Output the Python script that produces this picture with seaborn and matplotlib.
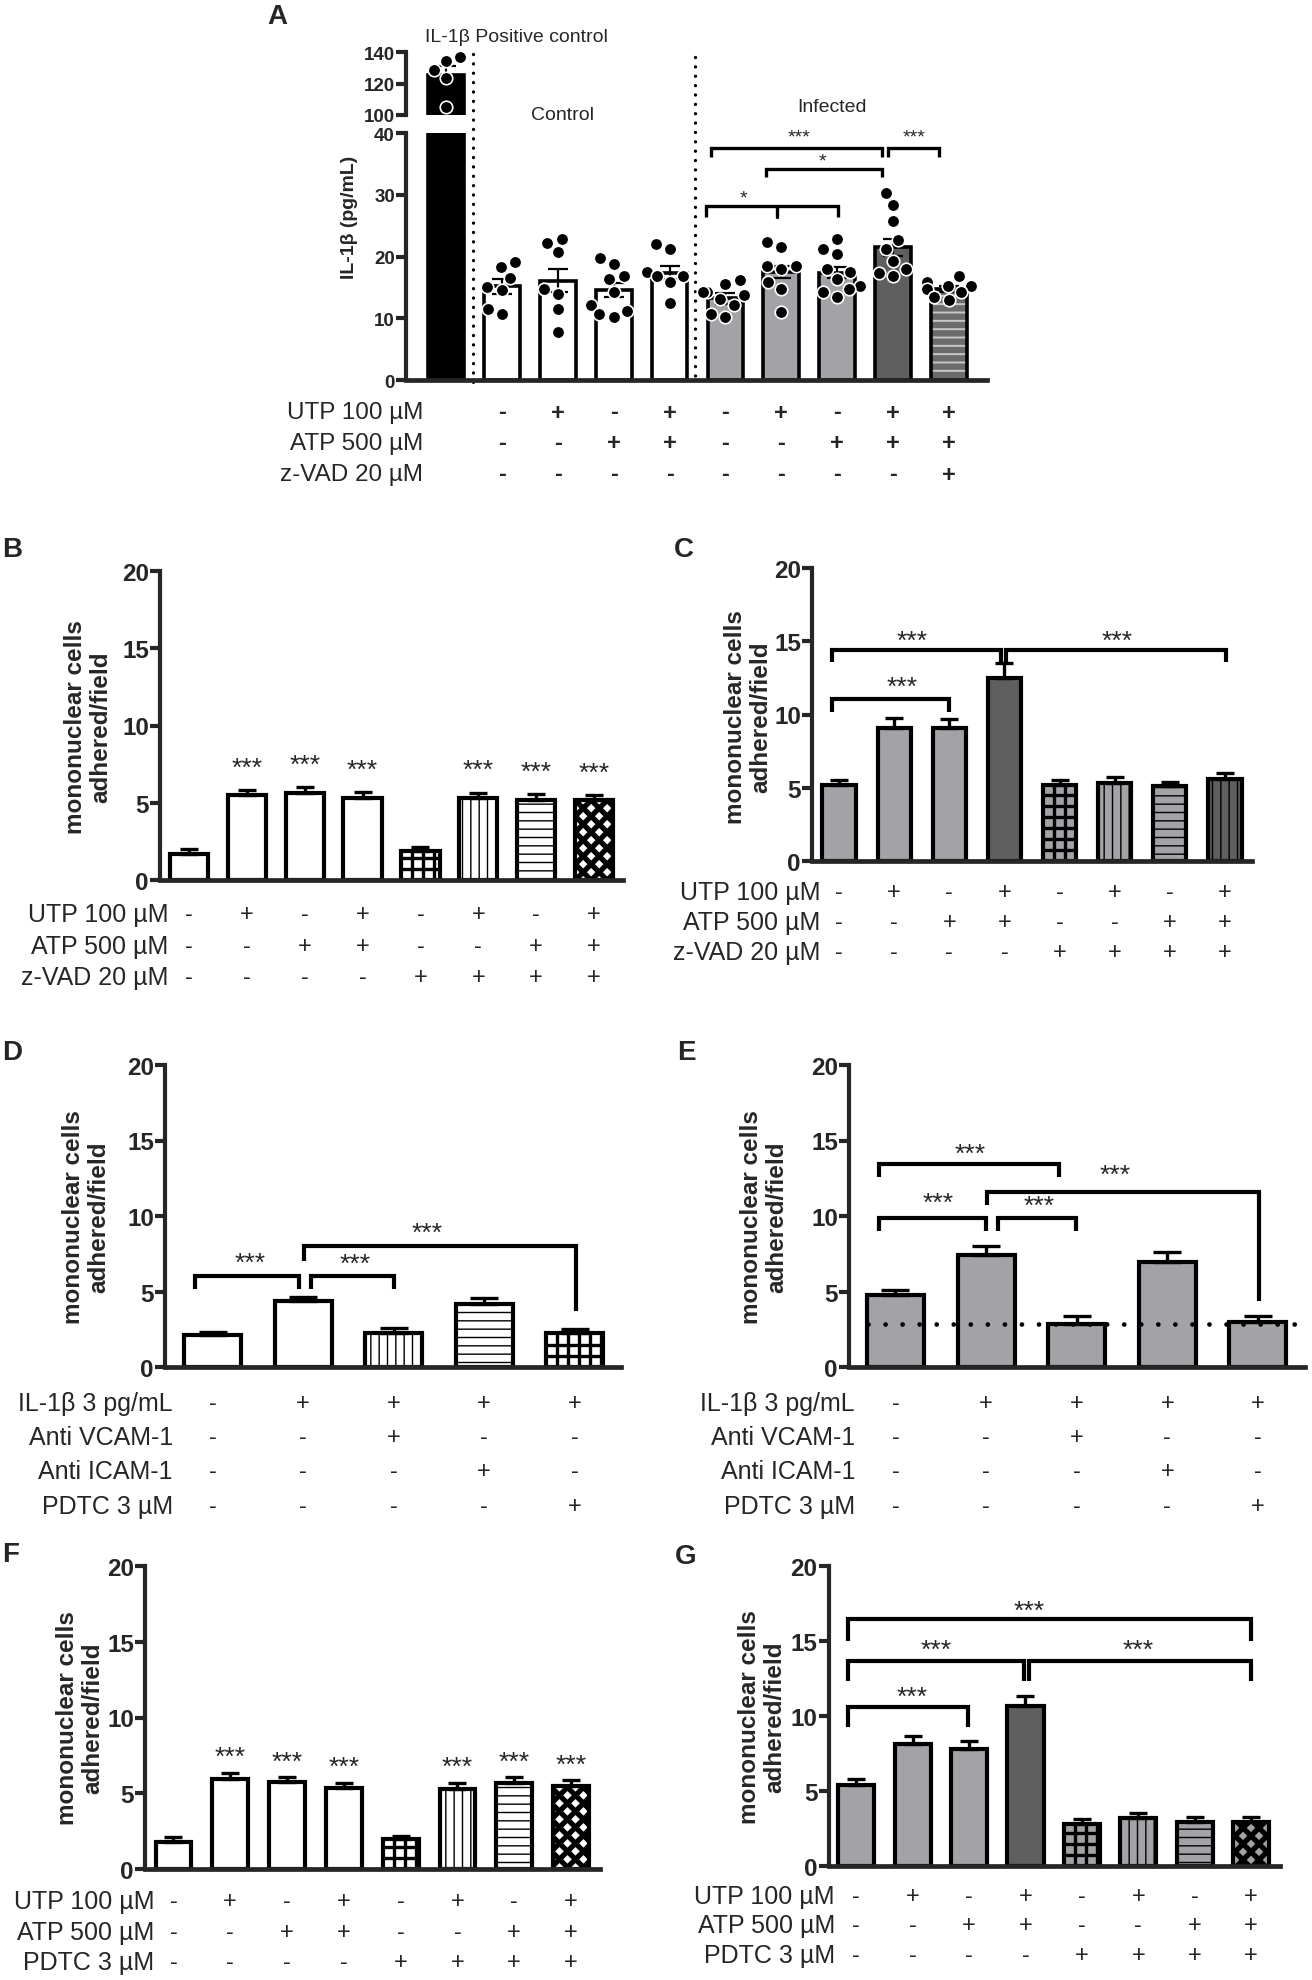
import numpy as np
import pandas as pd
import seaborn as sns
import matplotlib.pyplot as plt
import matplotlib.transforms as mtransforms
from matplotlib.patches import Rectangle
from matplotlib.collections import LineCollection

W, H = 1312, 1981
LIGHT = "#a2a2a7"
DARK = "#5f5f5f"

# ---------------- data ----------------
# panel A: IL-1b (pg/mL), positive control + control / infected groups
a_groups = ["pos", "ctl", "ctl_utp", "ctl_atp", "ctl_both",
            "inf", "inf_utp", "inf_atp", "inf_both", "inf_zvad"]
a_means = [125.5, 15.2, 16.1, 14.6, 17.4, 13.2, 17.5, 17.4, 21.5, 14.8]
a_sems = [5.4, 1.2, 1.9, 1.1, 1.1, 0.9, 1.0, 0.9, 1.4, 0.5]
a_pts_pos = [136.8, 134.0, 128.7, 123.8, 105.3]
a_pts_ctl = [19.1, 18.3, 16.5, 15.0, 14.6, 11.5, 10.7]
a_pts_ctl_utp = [22.9, 22.2, 20.7, 14.8, 13.9, 11.5, 7.7]
a_pts_ctl_atp = [19.7, 18.8, 16.9, 16.4, 14.2, 12.1, 11.2, 10.7, 10.2]
a_pts_ctl_both = [22.1, 21.2, 17.5, 16.9, 16.9, 15.8, 12.5]
a_pts_inf = [16.2, 15.6, 14.2, 14.2, 13.7, 13.1, 12.1, 10.7, 10.2]
a_pts_inf_utp = [22.3, 21.5, 18.5, 18.5, 18.0, 15.8, 14.8, 11.0]
a_pts_inf_atp = [22.9, 21.2, 20.4, 18.0, 17.5, 16.4, 15.3, 14.8, 14.2, 13.4]
a_pts_inf_both = [30.3, 28.3, 25.8, 22.6, 21.2, 19.2, 18.0, 17.4, 16.8]
a_pts_inf_zvad = [16.9, 15.8, 15.3, 15.3, 14.8, 14.2, 13.4, 12.9]
a_utp = ["-", "+", "-", "+", "-", "+", "-", "+", "+"]
a_atp = ["-", "-", "+", "+", "-", "-", "+", "+", "+"]
a_zvad = ["-", "-", "-", "-", "-", "-", "-", "-", "+"]

# panels B-G: mononuclear cells adhered / field
b_means = [1.7, 5.5, 5.65, 5.3, 1.9, 5.3, 5.2, 5.15]
b_sems = [0.3, 0.3, 0.35, 0.4, 0.25, 0.35, 0.35, 0.35]
b_signif = [False, True, True, True, False, True, True, True]
c_means = [5.2, 9.1, 9.1, 12.5, 5.2, 5.35, 5.1, 5.6]
c_sems = [0.35, 0.65, 0.6, 1.0, 0.35, 0.4, 0.3, 0.4]
d_means = [2.1, 4.35, 2.25, 4.2, 2.25]
d_sems = [0.25, 0.3, 0.35, 0.4, 0.25]
e_means = [4.75, 7.4, 2.85, 6.95, 3.0]
e_sems = [0.35, 0.6, 0.5, 0.65, 0.35]
e_baseline = 2.82
f_means = [1.8, 5.95, 5.75, 5.35, 1.95, 5.3, 5.65, 5.5]
f_sems = [0.3, 0.4, 0.3, 0.35, 0.25, 0.4, 0.4, 0.35]
f_signif = [False, True, True, True, False, True, True, True]
g_means = [5.4, 8.15, 7.8, 10.65, 2.8, 3.2, 2.95, 2.95]
g_sems = [0.4, 0.5, 0.55, 0.7, 0.35, 0.35, 0.35, 0.35]

utp8 = ["-", "+", "-", "+", "-", "+", "-", "+"]
atp8 = ["-", "-", "+", "+", "-", "-", "+", "+"]
late8 = ["-", "-", "-", "-", "+", "+", "+", "+"]
il5 = ["-", "+", "+", "+", "+"]
vcam5 = ["-", "-", "+", "-", "-"]
icam5 = ["-", "-", "-", "+", "-"]
pdtc5 = ["-", "-", "-", "-", "+"]

# ---------------- helpers ----------------
sns.set_style("ticks")
plt.rcParams["font.family"] = ["Liberation Sans", "DejaVu Sans"]
plt.rcParams["hatch.linewidth"] = 1.0

fig = plt.figure(figsize=(W / 100, H / 100), dpi=100)
fig.patch.set_facecolor("white")

LW = 3.0
pending = []   # (ax, patch, kind) for the drawn grid / diamond fills


def add_ax(left, top, right, bottom):
    return fig.add_axes([left / W, 1 - bottom / H, (right - left) / W, (bottom - top) / H])


def style(ax, lw=LW, bottom=True, fs=17.5, tl=7):
    sns.despine(ax=ax, bottom=not bottom)
    ax.spines["left"].set_linewidth(lw)
    ax.spines["bottom"].set_linewidth(lw + 0.4)
    ax.set_xticks([])
    ax.set_xlabel("")
    ax.set_ylabel("")
    ax.tick_params(axis="y", length=tl, width=lw, pad=1, labelsize=fs)
    for t in ax.get_yticklabels():
        t.set_fontweight("bold")
    ax.patch.set_alpha(0)


def draw_bars(ax, means, sems, faces, hatches, width, lw=LW, cap=6.5, elw=2.4,
              up_only=True, hatch_colors=None):
    names = [str(i) for i in range(len(means))]
    sns.barplot(x=names, y=means, order=names, color="white", width=width,
                edgecolor="black", linewidth=lw, errorbar=None, ax=ax, zorder=2)
    bars = list(ax.patches)[:len(means)]
    for k, (p, fc, h) in enumerate(zip(bars, faces, hatches)):
        p.set_facecolor(fc)
        if h in ("grid", "diamond"):
            pending.append((ax, p, h))
        elif h:
            p.set_hatch(h)
            p.set_hatch_linewidth(1.0)
            if hatch_colors and hatch_colors[k]:
                p.set_hatch_linewidth(1.4)
                p.set_edgecolor(hatch_colors[k])
                p.set_linewidth(0)
                ax.add_patch(Rectangle(p.get_xy(), p.get_width(), p.get_height(),
                                       fill=False, ec="black", lw=lw, zorder=2.5))
    x = np.arange(len(means))
    lower = np.zeros(len(means)) if up_only else sems
    ax.errorbar(x, means, yerr=[lower, sems], fmt="none", ecolor="black",
                elinewidth=elw, capsize=cap, capthick=elw, zorder=3)


def fill_pattern(ax, p, kind):
    # grid / diamond fill drawn in pixel space, clipped to the bar
    (x0, y0), (x1, y1) = ax.transData.transform(
        [[p.get_x(), p.get_y()], [p.get_x() + p.get_width(), p.get_y() + p.get_height()]])
    segs = []
    if kind == "grid":
        step, lw = 11.0, 2.4
        for xx in np.arange(x0 + step, x1 - 2, step):
            segs.append([(xx, y0), (xx, y1)])
        for yy in np.arange(y0 + step, y1 - 2, step):
            segs.append([(x0, yy), (x1, yy)])
    else:
        step, lw = 16.0, 3.8
        h = y1 - y0
        for xx in np.arange(x0 - h, x1 + h, step):
            segs.append([(xx, y0), (xx + h, y1)])
            segs.append([(xx + h, y0), (xx, y1)])
    lc = LineCollection(segs, colors="black", linewidths=lw,
                        transform=mtransforms.IdentityTransform(), zorder=2.2)
    ax.add_collection(lc, autolim=False)
    lc.set_clip_path(p)


def rows(ax, labels, marks, ys, label_x, start=0, fs=18, mfs=17, weight="normal"):
    tr = mtransforms.blended_transform_factory(ax.transData, fig.transFigure)
    for lab, mk, y in zip(labels, marks, ys):
        fig.text(label_x / W, 1 - y / H, lab, ha="right", va="center", fontsize=fs)
        for i, m in enumerate(mk):
            ax.text(start + i, 1 - y / H, m, transform=tr, ha="center", va="center",
                    fontsize=mfs, fontweight=weight, clip_on=False)


def ylab(x, y, text, fs=17.5):
    fig.text(x / W, 1 - y / H, text, rotation=90, ha="center", va="center",
             fontsize=fs, fontweight="bold", linespacing=1.1)


def letter(x, y, s):
    fig.text(x / W, 1 - y / H, s, ha="left", va="center", fontsize=20, fontweight="bold")


def bracket(ax, x1, x2, y, l1, l2, sx, sy, star="***", lw=3.0, fs=19):
    ax.plot([x1, x1, x2, x2], [l1, y, y, l2], color="black", lw=lw,
            solid_joinstyle="miter", solid_capstyle="butt", clip_on=False, zorder=4)
    ax.text(sx, sy, star, ha="center", va="center", fontsize=fs, zorder=4)


ROW_LABELS_8 = ["UTP 100 µM", "ATP 500 µM"]
PAT8 = [None] * 4 + ["grid", "||", "--", "diamond"]

# ---------------- panel A ----------------
ax_hi = add_ax(406, 53, 987, 116)
ax_lo = add_ax(406, 134, 987, 381)
a_faces = ["black", "white", "white", "white", "white", LIGHT, LIGHT, LIGHT, DARK, "#6c6c6c"]
a_hatch = [None] * 9 + ["--"]
a_hcol = [None] * 9 + ["#c8c8c8"]
for ax in (ax_hi, ax_lo):
    draw_bars(ax, a_means, a_sems, a_faces, a_hatch, 0.64, lw=2.6, cap=7.5, elw=1.6,
              up_only=False, hatch_colors=a_hcol)

pts_lo = [a_pts_ctl, a_pts_ctl_utp, a_pts_ctl_atp, a_pts_ctl_both, a_pts_inf,
          a_pts_inf_utp, a_pts_inf_atp, a_pts_inf_both, a_pts_inf_zvad]
df_lo = pd.DataFrame({"group": np.repeat(a_groups[1:], [len(p) for p in pts_lo]),
                      "value": np.concatenate(pts_lo)})
df_hi = pd.DataFrame({"group": ["pos"] * len(a_pts_pos), "value": a_pts_pos})
names_a = [str(i) for i in range(len(a_groups))]
gmap = dict(zip(a_groups, names_a))
df_lo["group"] = df_lo["group"].map(gmap)
df_hi["group"] = df_hi["group"].map(gmap)
sns.swarmplot(data=df_lo, x="group", y="value", order=names_a, color="black", size=9,
              edgecolor="white", linewidth=1.2, ax=ax_lo, zorder=5, warn_thresh=1)
sns.swarmplot(data=df_hi, x="group", y="value", order=names_a, color="black", size=9,
              edgecolor="white", linewidth=1.2, ax=ax_hi, zorder=5, warn_thresh=1)

ax_hi.set_ylim(100, 140)
ax_hi.set_yticks([100, 120, 140])
ax_lo.set_ylim(0, 40)
ax_lo.set_yticks([0, 10, 20, 30, 40])
for ax in (ax_hi, ax_lo):
    ax.set_xlim(-0.716, 9.68)
style(ax_hi, bottom=False, fs=13.5, tl=7)
style(ax_lo, fs=13.5, tl=7)

tr_a = mtransforms.blended_transform_factory(ax_lo.transData, fig.transFigure)
for xv, y1, y2 in [(0.48, 55, 388), (4.45, 58, 381)]:
    ax_lo.plot([xv, xv], [1 - y1 / H, 1 - y2 / H], transform=tr_a, clip_on=False,
               color="black", lw=2.4, linestyle=(0, (0.01, 2.8)), dash_capstyle="round")

fig.text(350 / W, 1 - 217 / H, "IL-1β (pg/mL)", rotation=90, ha="center", va="center",
         fontsize=14, fontweight="bold")
fig.text(425 / W, 1 - 37 / H, "IL-1β Positive control", ha="left", va="center", fontsize=14)
fig.text(563 / W, 1 - 115 / H, "Control", ha="center", va="center", fontsize=14)
fig.text(832 / W, 1 - 107 / H, "Infected", ha="center", va="center", fontsize=14)
letter(267, 17, "A")

bracket(ax_lo, 4.74, 7.8, 37.6, 36.1, 36.1, 6.32, 39.3, lw=2.4, fs=14)
bracket(ax_lo, 7.9, 8.83, 37.6, 36.1, 36.1, 8.37, 39.3, lw=2.4, fs=14)
bracket(ax_lo, 5.72, 7.8, 34.2, 32.9, 32.9, 6.74, 35.4, star="*", lw=2.4, fs=14)
bracket(ax_lo, 4.65, 7.01, 28.2, 26.4, 26.4, 5.33, 29.4, star="*", lw=2.4, fs=14)
ax_lo.plot([5.92, 5.92], [26.4, 28.2], color="black", lw=2.4, clip_on=False, zorder=4)

rows(ax_lo, ["UTP 100 µM", "ATP 500 µM", "z-VAD 20 µM"], [a_utp, a_atp, a_zvad],
     [413, 444, 475], 423, start=1, fs=17.5, mfs=17, weight="bold")

# ---------------- panel B ----------------
ax_b = add_ax(160, 572, 623, 881)
draw_bars(ax_b, b_means, b_sems, ["white"] * 8, PAT8, 0.66)
for i, (m, s, sig) in enumerate(zip(b_means, b_sems, b_signif)):
    if sig:
        ax_b.text(i, m + s + 1.45, "***", ha="center", va="center", fontsize=19)
ax_b.set_ylim(0, 20)
ax_b.set_yticks([0, 5, 10, 15, 20])
ax_b.set_xlim(-0.5, 7.5)
style(ax_b)
ylab(88, 727, "mononuclear cells\nadhered/field")
letter(2, 550, "B")
rows(ax_b, ROW_LABELS_8 + ["z-VAD 20 µM"], [utp8, atp8, late8], [915, 947, 978], 168)

# ---------------- panel C ----------------
ax_c = add_ax(812, 569, 1252, 862)
draw_bars(ax_c, c_means, c_sems, [LIGHT] * 3 + [DARK] + [LIGHT] * 3 + [DARK],
          [None] * 4 + ["grid", "||", "--", "||"], 0.6)
ax_c.set_ylim(0, 20)
ax_c.set_yticks([0, 5, 10, 15, 20])
ax_c.set_xlim(-0.49, 7.49)
style(ax_c)
bracket(ax_c, -0.13, 2.93, 14.4, 13.6, 13.6, 1.32, 15.0)
bracket(ax_c, 3.02, 7.02, 14.4, 13.6, 13.6, 5.04, 15.0)
bracket(ax_c, -0.13, 2.0, 11.05, 10.2, 10.2, 1.15, 11.9)
ylab(748, 717, "mononuclear cells\nadhered/field")
letter(674, 550, "C")
rows(ax_c, ROW_LABELS_8 + ["z-VAD 20 µM"], [utp8, atp8, late8], [893, 923, 953], 820)

# ---------------- panel D ----------------
ROW_LABELS_5 = ["IL-1β 3 pg/mL", "Anti VCAM-1", "Anti ICAM-1", "PDTC 3 µM"]
ax_d = add_ax(165, 1066, 621, 1368)
draw_bars(ax_d, d_means, d_sems, ["white"] * 5, [None, None, "||", "--", "grid"], 0.63,
          cap=10)
ax_d.set_ylim(0, 20)
ax_d.set_yticks([0, 5, 10, 15, 20])
ax_d.set_xlim(-0.525, 4.51)
style(ax_d)
bracket(ax_d, -0.19, 0.96, 6.03, 5.17, 5.17, 0.42, 6.9)
bracket(ax_d, 1.09, 2.0, 6.03, 5.17, 5.17, 1.57, 6.8)
bracket(ax_d, 1.01, 4.01, 8.0, 7.0, 3.7, 2.37, 8.9)
ylab(86, 1217, "mononuclear cells\nadhered/field")
letter(2, 1053, "D")
rows(ax_d, ROW_LABELS_5, [il5, vcam5, icam5, pdtc5], [1404, 1438, 1472, 1507], 173)

# ---------------- panel E ----------------
ax_e = add_ax(849, 1066, 1305, 1368)
draw_bars(ax_e, e_means, e_sems, [LIGHT] * 5, [None] * 5, 0.63, cap=10)
ax_e.set_ylim(0, 20)
ax_e.set_yticks([0, 5, 10, 15, 20])
ax_e.set_xlim(-0.513, 4.52)
style(ax_e)
ax_e.plot([-0.3, 4.52], [e_baseline, e_baseline], color="black", lw=3.4,
          linestyle=(0, (0.01, 3.6)), dash_capstyle="round", zorder=5, clip_on=False)
bracket(ax_e, -0.18, 1.80, 13.44, 12.58, 12.58, 0.82, 14.1)
bracket(ax_e, -0.18, 1.0, 9.87, 9.0, 9.0, 0.47, 10.9)
bracket(ax_e, 1.13, 1.99, 9.87, 9.0, 9.0, 1.59, 10.7)
bracket(ax_e, 1.01, 4.01, 11.6, 10.7, 4.4, 2.42, 12.7)
ylab(764, 1217, "mononuclear cells\nadhered/field")
letter(677, 1053, "E")
rows(ax_e, ROW_LABELS_5, [il5, vcam5, icam5, pdtc5], [1404, 1438, 1472, 1507], 855)

# ---------------- panel F ----------------
ax_f = add_ax(145, 1567, 600, 1870)
draw_bars(ax_f, f_means, f_sems, ["white"] * 8, PAT8, 0.63)
for i, (m, s, sig) in enumerate(zip(f_means, f_sems, f_signif)):
    if sig:
        ax_f.text(i, m + s + 1.05, "***", ha="center", va="center", fontsize=19)
ax_f.set_ylim(0, 20)
ax_f.set_yticks([0, 5, 10, 15, 20])
ax_f.set_xlim(-0.5, 7.51)
style(ax_f)
ylab(80, 1718, "mononuclear cells\nadhered/field")
letter(2, 1555, "F")
rows(ax_f, ROW_LABELS_8 + ["PDTC 3 µM"], [utp8, atp8, late8], [1902, 1933, 1963], 154)

# ---------------- panel G ----------------
ax_g = add_ax(828.5, 1567, 1280, 1867)
draw_bars(ax_g, g_means, g_sems, [LIGHT] * 3 + [DARK] + [LIGHT] * 4, PAT8, 0.64)
ax_g.set_ylim(0, 20)
ax_g.set_yticks([0, 5, 10, 15, 20])
ax_g.set_xlim(-0.49, 7.51)
style(ax_g)
bracket(ax_g, -0.14, 6.99, 16.47, 15.0, 15.0, 3.07, 17.0)
bracket(ax_g, -0.14, 2.98, 13.67, 12.33, 12.33, 1.41, 14.4)
bracket(ax_g, 3.07, 6.99, 13.67, 12.33, 12.33, 5.0, 14.4)
bracket(ax_g, -0.14, 1.99, 10.6, 9.27, 9.27, 1.0, 11.27)
ylab(762, 1717, "mononuclear cells\nadhered/field")
letter(675, 1557, "G")
rows(ax_g, ROW_LABELS_8 + ["PDTC 3 µM"], [utp8, atp8, late8], [1897, 1926, 1956], 835)

# pattern fills need the final axis limits
for ax, p, kind in pending:
    fill_pattern(ax, p, kind)

fig.savefig("out.png", dpi=100, facecolor="white")
